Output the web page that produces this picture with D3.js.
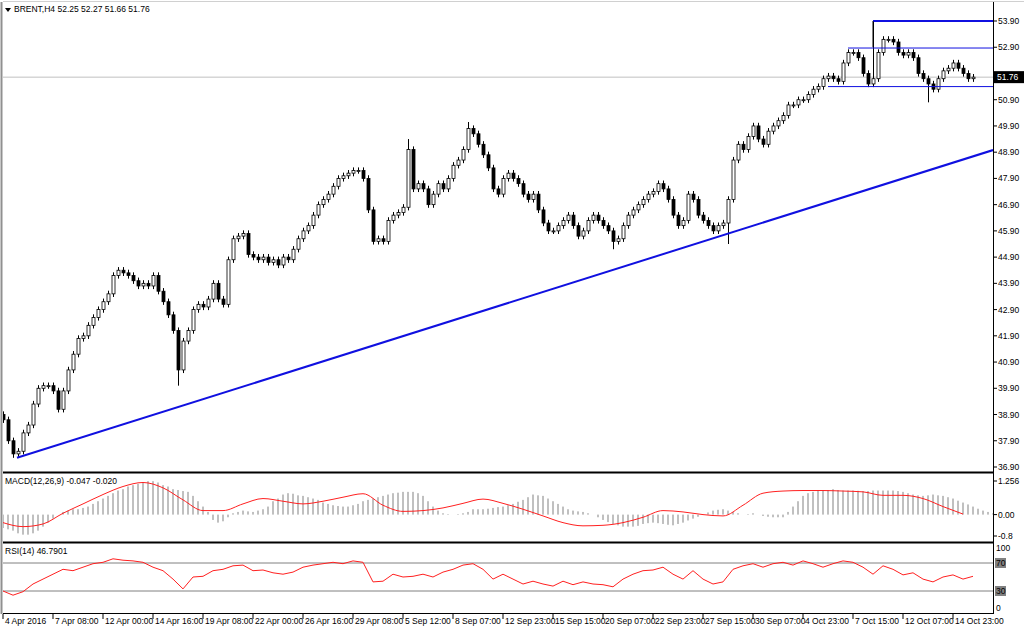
<!DOCTYPE html>
<html><head><meta charset="utf-8">
<script src="https://cdn.jsdelivr.net/npm/d3@7"></script>
<style>
body{margin:0;background:#fff;}
svg text{font-family:"Liberation Sans",Arial,sans-serif;font-size:8.5px;fill:#000;}
</style></head>
<body><svg id="chart" width="1024" height="630"></svg>
<script>
const closes = [38.7,37.9,37.4,37.5,38.2,38.5,39.3,39.9,40.0,40.0,39.8,39.1,39.8,40.6,41.2,41.8,41.9,42.3,42.6,42.9,
43.2,43.5,44.2,44.4,44.3,44.2,44.0,43.8,43.9,43.8,44.2,43.6,43.2,42.7,42.1,40.6,41.7,42.1,42.9,43.1,
43.0,43.3,43.9,43.3,43.1,44.8,45.6,45.7,45.8,45.0,44.9,44.8,44.9,44.7,44.8,44.6,44.9,44.8,45.2,45.6,
45.9,46.1,46.5,46.9,47.1,47.3,47.6,47.9,48.0,48.1,48.2,48.2,47.9,46.7,45.5,45.6,45.5,46.3,46.5,46.6,
46.8,49.0,47.5,47.7,47.5,46.9,47.3,47.7,47.5,47.9,48.4,48.6,49.0,49.8,49.6,49.2,48.8,48.3,47.5,47.3,
47.9,48.1,47.9,47.7,47.3,47.1,47.3,46.7,46.2,45.9,45.9,46.1,46.3,46.5,46.1,45.7,45.9,46.3,46.5,46.3,
46.1,45.9,45.5,45.6,46.1,46.5,46.7,46.9,47.1,47.3,47.4,47.7,47.5,47.1,46.5,46.1,46.3,47.3,47.1,46.5,
46.3,46.1,45.9,46.1,46.2,47.1,48.6,49.2,49.0,49.5,49.9,49.4,49.2,49.7,49.9,50.1,50.3,50.7,50.7,50.9,
50.9,51.1,51.3,51.4,51.7,51.8,51.7,51.6,52.3,52.7,52.7,52.5,51.9,51.5,51.7,52.7,53.2,53.2,53.1,52.7,
52.6,52.7,52.5,51.9,51.7,51.5,51.3,51.7,52.0,52.1,52.3,52.1,51.9,51.7,51.76];
const firstOpen = 38.9;
const spikes = [{i:2,low:37.25},{i:35,low:40.0},{i:81,high:49.4},{i:93,high:50.05},{i:122,low:45.2},{i:174,high:53.9},{i:185,low:50.8},{i:145,low:45.4}];
const hist = [-0.5,-0.55,-0.6,-0.7,-0.75,-0.75,-0.7,-0.6,-0.45,-0.3,-0.15,0.0,0.1,0.15,0.2,0.2,0.25,0.3,0.4,0.5,
0.6,0.7,0.8,0.9,0.95,1.05,1.1,1.15,1.2,1.25,1.25,1.2,1.1,1.05,0.95,0.92,0.88,0.85,0.7,0.5,
0.3,0.1,-0.2,-0.3,-0.25,-0.1,0.05,0.1,0.15,0.12,0.1,0.15,0.2,0.3,0.5,0.6,0.75,0.8,0.78,0.72,
0.7,0.65,0.6,0.55,0.45,0.4,0.35,0.32,0.3,0.3,0.35,0.4,0.5,0.55,0.6,0.65,0.7,0.75,0.8,0.82,
0.85,0.85,0.85,0.8,0.7,0.5,0.3,0.15,0.05,0.02,0.0,0.02,0.05,0.1,0.2,0.2,0.2,0.22,0.25,0.28,
0.3,0.35,0.4,0.48,0.55,0.65,0.75,0.72,0.7,0.6,0.5,0.4,0.3,0.2,0.15,0.12,0.1,0.05,0.0,-0.1,
-0.2,-0.28,-0.35,-0.4,-0.45,-0.45,-0.45,-0.42,-0.35,-0.32,-0.3,-0.32,-0.35,-0.38,-0.4,-0.35,-0.3,-0.22,-0.15,-0.08,
0.0,0.08,0.15,0.18,0.2,0.15,0.1,0.05,0.0,0.02,0.05,0.0,-0.05,-0.08,-0.1,-0.1,-0.1,0.1,0.3,0.5,
0.7,0.8,0.85,0.88,0.9,0.92,0.95,0.92,0.9,0.9,0.9,0.89,0.88,0.88,0.9,0.9,0.9,0.9,0.9,0.88,
0.85,0.8,0.75,0.72,0.7,0.72,0.75,0.72,0.7,0.65,0.6,0.52,0.45,0.38,0.3,0.22,0.15,0.1,0.05,0.03,0.02,0.0,0.0];
// signal sampled every 4 bars
const signal = [-0.3,-0.45,-0.35,0.05,0.4,0.75,1.05,1.2,1.0,0.55,0.15,0.15,0.4,0.6,0.5,0.4,0.5,0.65,0.78,0.35,
0.12,0.15,0.25,0.42,0.58,0.42,0.2,-0.05,-0.3,-0.42,-0.4,-0.3,-0.1,0.15,0.1,0.0,-0.05,0.35,0.8,0.88,
0.9,0.9,0.88,0.85,0.72,0.72,0.6,0.3,0.02];
// rsi sampled every 2 bars
const rsi = [30,24,29,40,47,54,61,59,64,69,71,76,74,73,71,64,59,47,33,50,51,59,61,66,67,59,60,56,54,57,
64,67,69,71,69,73,71,43,44,54,50,51,54,50,57,61,67,69,61,47,54,47,40,44,40,37,44,39,43,40,
39,36,47,54,59,60,64,54,47,59,47,40,43,61,66,69,64,69,71,67,73,69,64,69,73,71,64,54,66,61,
53,56,47,43,50,53,47,51];
const dateLabels = ["4 Apr 2016","7 Apr 08:00","12 Apr 00:00","14 Apr 16:00","19 Apr 08:00","22 Apr 00:00","26 Apr 16:00",
"29 Apr 08:00","5 Sep 12:00","8 Sep 07:00","12 Sep 23:00","15 Sep 15:00","20 Sep 07:00","22 Sep 23:00","27 Sep 15:00",
"30 Sep 07:00","4 Oct 23:00","7 Oct 15:00","12 Oct 07:00","14 Oct 23:00"];
const priceTicks = d3.range(17, -1, -1).map(k => 36.9 + k);
const levels = [{v:53.9, from:174, w:2},{v:52.87, from:169, w:1},{v:51.4, from:165, w:1}];
const trend = {i0:2.8, p0:37.25, i1:198, p1:48.98};
const lastPrice = 51.76;

const svg = d3.select("#chart");
const L = 3, R = 993;
const x = d3.scaleLinear().domain([0, 193]).range([3, 968]);
const y = d3.scaleLinear().domain([36.9, 53.9]).range([467, 21]);
const ym = d3.scaleLinear().domain([-0.8, 1.256]).range([536, 481]);
const yr = d3.scaleLinear().domain([0, 100]).range([612, 542]);

svg.append("defs").append("clipPath").attr("id","cp").append("rect").attr("x",L).attr("y",0).attr("width",R-L).attr("height",630);
const main = svg.append("g").attr("clip-path","url(#cp)");

// last price line
main.append("line").attr("x1",L).attr("x2",R).attr("y1",y(lastPrice)).attr("y2",y(lastPrice)).attr("stroke","#c0c0c0");

// candles
const bars = closes.map((c, i) => {
  const o = i === 0 ? firstOpen : closes[i-1];
  const s = spikes.find(d => d.i === i) || {};
  return {i, o, c, h: s.high || Math.max(o,c)+0.12, l: s.low || Math.min(o,c)-0.12};
});
const cg = main.append("g");
cg.selectAll("line").data(bars).join("line")
  .attr("x1",d=>x(d.i)+0.5).attr("x2",d=>x(d.i)+0.5).attr("y1",d=>y(d.h)).attr("y2",d=>y(d.l)).attr("stroke","#000");
cg.selectAll("rect").data(bars).join("rect")
  .attr("x",d=>x(d.i)-1).attr("width",3)
  .attr("y",d=>y(Math.max(d.o,d.c))).attr("height",d=>Math.max(1,Math.abs(y(d.o)-y(d.c))))
  .attr("fill",d=>d.c>=d.o?"#fff":"#000").attr("stroke","#000").attr("stroke-width",0.8);

// trend line and levels
main.append("line").attr("x1",x(trend.i0)).attr("y1",y(trend.p0)).attr("x2",x(trend.i1)).attr("y2",y(trend.p1))
  .attr("stroke","#1010e0").attr("stroke-width",2);
main.selectAll(".lvl").data(levels).join("line").attr("class","lvl")
  .attr("x1",d=>x(d.from)).attr("x2",R).attr("y1",d=>y(d.v)).attr("y2",d=>y(d.v))
  .attr("stroke","#1010e0").attr("stroke-width",d=>d.w);
main.append("line").attr("x1",x(174)).attr("x2",x(174)).attr("y1",y(53.9)).attr("y2",y(52.9)).attr("stroke","#000");

// MACD
main.selectAll(".h").data(hist).join("rect").attr("class","h")
  .attr("x",(d,i)=>x(i)-1).attr("width",2)
  .attr("y",d=>Math.min(ym(d),ym(0))).attr("height",d=>Math.abs(ym(d)-ym(0)))
  .attr("fill","#c0c0c0");
main.append("path").datum(signal).attr("fill","none").attr("stroke","#ff2020").attr("stroke-width",1)
  .attr("d", d3.line().x((d,i)=>x(i*4)).y(d=>ym(d)).curve(d3.curveMonotoneX));

// RSI
[70,30].forEach(v => main.append("line").attr("x1",L).attr("x2",R).attr("y1",yr(v)).attr("y2",yr(v)).attr("stroke","#808080"));
main.append("path").datum(rsi).attr("fill","none").attr("stroke","#ff2020").attr("stroke-width",1)
  .attr("d", d3.line().x((d,i)=>x(i*2)).y(d=>yr(d)));

// frames
svg.append("line").attr("x1",1.5).attr("x2",1.5).attr("y1",2).attr("y2",614).attr("stroke","#909090").attr("stroke-width",2);
svg.append("line").attr("x1",L).attr("x2",1024).attr("y1",1.5).attr("y2",1.5).attr("stroke","#d0d0d0");
svg.append("line").attr("x1",R+0.5).attr("x2",R+0.5).attr("y1",2).attr("y2",614).attr("stroke","#000");
[[472.5,2],[542.5,2],[613.5,1]].forEach(([yy,w]) => svg.append("line").attr("x1",L).attr("x2",R+1).attr("y1",yy).attr("y2",yy).attr("stroke","#000").attr("stroke-width",w));

// price axis (label hidden by the last-price box is skipped)
const pa = svg.append("g");
priceTicks.forEach(v => {
  pa.append("line").attr("x1",R).attr("x2",R+4).attr("y1",y(v)).attr("y2",y(v)).attr("stroke","#000");
  if (Math.abs(y(v) - y(lastPrice)) > 8) pa.append("text").attr("x",R+5).attr("y",y(v)+3).text(v.toFixed(2));
});
pa.append("rect").attr("x",R+1).attr("y",y(lastPrice)-6).attr("width",30).attr("height",12).attr("fill","#000");
pa.append("text").attr("x",R+4).attr("y",y(lastPrice)+3).style("fill","#fff").text(lastPrice.toFixed(2));

// MACD axis
[[1.256,"1.256"],[0,"0.00"],[-0.8,"-0.8"]].forEach(([v,t]) => {
  svg.append("line").attr("x1",R).attr("x2",R+4).attr("y1",ym(v)).attr("y2",ym(v)).attr("stroke","#000");
  svg.append("text").attr("x",R+5).attr("y",ym(v)+3).text(t);
});
// RSI axis
[[100,"100",0],[70,"70",1],[30,"30",1],[0,"0",0]].forEach(([v,t,box]) => {
  const yy = v===100 ? yr(v)+6 : v===0 ? yr(v)-4 : yr(v);
  if (box) svg.append("rect").attr("x",R+2).attr("y",yy-5).attr("width",11).attr("height",10).attr("fill","#808080");
  svg.append("text").attr("x",R+3).attr("y",yy+3).text(t);
});

// time axis
dateLabels.forEach((t,k) => {
  const xx = x(k*10);
  svg.append("line").attr("x1",xx).attr("x2",xx).attr("y1",614).attr("y2",619).attr("stroke","#000");
  svg.append("text").attr("x",xx+2).attr("y",624).text(t);
});

// titles
svg.append("path").attr("d","M5,8 L11,8 L8,12 Z").attr("fill","#000");
svg.append("text").attr("x",14).attr("y",12).text("BRENT,H4  52.25 52.27 51.66 51.76");
svg.append("text").attr("x",5).attr("y",484).text("MACD(12,26,9) -0.047 -0.020");
svg.append("text").attr("x",5).attr("y",554).text("RSI(14) 46.7901");
</script></body></html>
